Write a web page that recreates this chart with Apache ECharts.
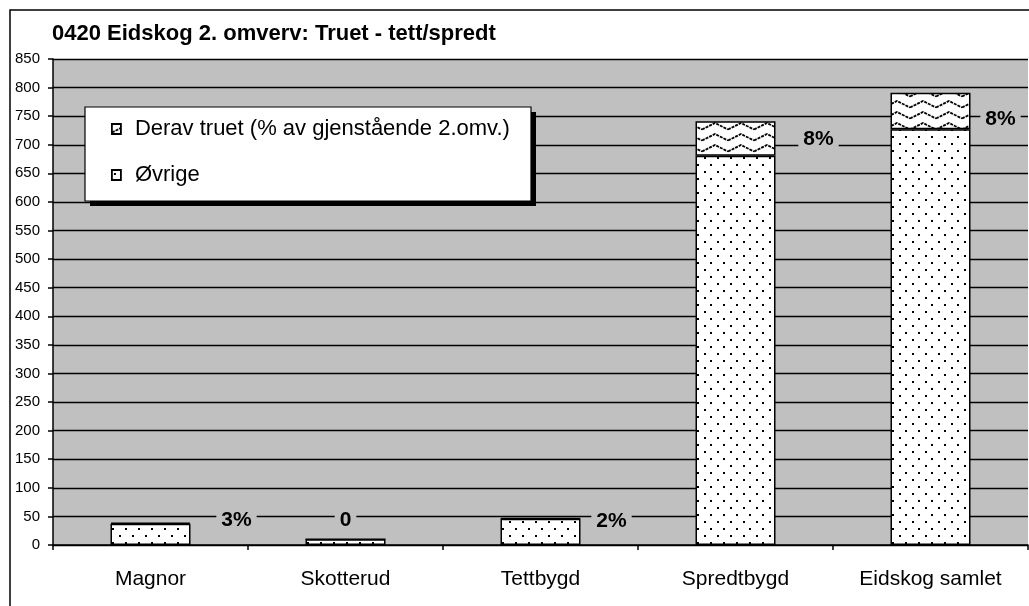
<!DOCTYPE html>
<html>
<head>
    <meta charset="UTF-8">
    <title>0420 Eidskog 2. omverv</title>
    <style>
        body,
        html {
            width: 100%;
            height: 100%;
            margin: 0;
            padding: 0;
            background: #fff;
        }
        #myChart {
            width: 1029px;
            height: 606px;
        }
    </style>
    <script src="https://cdn.jsdelivr.net/npm/echarts@6/dist/echarts.min.js"></script>
</head>
<body>
    <div id="myChart"></div>
    <script>
        // 数据
        let categories = ['Magnor', 'Skotterud', 'Tettbygd', 'Spredtbygd', 'Eidskog samlet'];
        let ovrige = [37, 10, 46, 681, 727];
        let truet = [2, 0, 1, 60, 64];
        let pctLabels = ['3%', '0', '2%', '8%', '8%'];
        let labelLevel = [43, 43, 41, 709, 744];

        // 图案：点
        function dotPattern() {
            let c = document.createElement('canvas');
            c.width = 13; c.height = 14;
            let g = c.getContext('2d');
            g.fillStyle = '#fff';
            g.fillRect(0, 0, 13, 14);
            g.fillStyle = '#000';
            g.fillRect(2, 3, 2, 2);
            g.fillRect(8, 10, 2, 2);
            return c;
        }
        // 图案：波浪
        function wavePattern() {
            let c = document.createElement('canvas');
            c.width = 26; c.height = 11;
            let g = c.getContext('2d');
            g.fillStyle = '#fff';
            g.fillRect(0, 0, 26, 11);
            g.strokeStyle = '#000';
            g.lineWidth = 1.8;
            g.setLineDash([3, 1]);
            g.beginPath();
            g.moveTo(0, 8.5);
            g.lineTo(13, 2);
            g.lineTo(26, 8.5);
            g.stroke();
            return c;
        }

        let font = '"Liberation Sans", Arial, sans-serif';
        // 标签相对柱中心的水平偏移
        let labelShift = [86, 0, 71, 83, 70];

        let myEcharts = echarts.init(document.querySelector('#myChart'));

        let option = {
            animation: false,
            backgroundColor: '#fff',
            title: {
                text: '0420 Eidskog 2. omverv: Truet - tett/spredt',
                left: 47,
                top: 18,
                textStyle: { fontFamily: font, fontSize: 22, fontWeight: 'bold', color: '#000' }
            },
            graphic: [{
                type: 'rect',
                shape: { x: 10, y: 10, width: 1040, height: 620 },
                style: { fill: 'none', stroke: '#000', lineWidth: 1.5 },
                z: 100
            }, {
                // 图例阴影
                type: 'rect',
                shape: { x: 90, y: 112, width: 446, height: 94 },
                style: { fill: '#000' },
                z: 50
            }, {
                type: 'rect',
                shape: { x: 85, y: 107, width: 446, height: 94 },
                style: { fill: '#fff', stroke: '#000', lineWidth: 1.2 },
                z: 51
            }],
            legend: {
                orient: 'vertical',
                left: 111,
                top: 118,
                z: 60,
                itemGap: 24,
                itemWidth: 9,
                itemHeight: 10,
                icon: 'rect',
                padding: 0,
                itemStyle: { borderColor: '#000', borderWidth: 1.8 },
                textStyle: { fontFamily: font, fontSize: 22, color: '#000', padding: [0, 0, 0, 9] },
                data: ['Derav truet (% av gjenstående 2.omv.)', 'Øvrige']
            },
            grid: { left: 53, top: 59, right: 1, bottom: 61, backgroundColor: '#c0c0c0', show: true, borderWidth: 0 },
            xAxis: {
                type: 'category',
                data: categories,
                axisLine: { lineStyle: { color: '#000', width: 1.5 } },
                axisTick: { show: true, length: 5, lineStyle: { color: '#000', width: 1.5 } },
                axisLabel: { fontFamily: font, fontSize: 21, color: '#000', margin: 24 }
            },
            yAxis: {
                type: 'value',
                min: 0,
                max: 850,
                interval: 50,
                axisLine: { show: true, lineStyle: { color: '#000', width: 1.5 } },
                axisTick: { show: true, length: 5, lineStyle: { color: '#000', width: 1.5 } },
                axisLabel: { fontFamily: font, fontSize: 15, color: '#000', margin: 13 },
                splitLine: { lineStyle: { color: '#000', width: 1.3 } }
            },
            series: [{
                name: 'Øvrige',
                type: 'bar',
                stack: 'total',
                barWidth: 80,
                data: ovrige,
                itemStyle: { color: { image: dotPattern(), repeat: 'repeat' }, borderColor: '#000', borderWidth: 1.5 }
            }, {
                name: 'Derav truet (% av gjenstående 2.omv.)',
                type: 'bar',
                stack: 'total',
                barWidth: 80,
                data: truet,
                itemStyle: { color: { image: wavePattern(), repeat: 'repeat' }, borderColor: '#000', borderWidth: 1.5 }
            }, {
                name: 'labels',
                type: 'scatter',
                symbolSize: 0,
                silent: true,
                z: 10,
                itemStyle: { opacity: 1 },
                data: categories.map((c, i) => ({
                    value: [c, labelLevel[i]],
                    label: { offset: [labelShift[i], 0] }
                })),
                label: {
                    show: true,
                    position: 'inside',
                    formatter: p => pctLabels[p.dataIndex],
                    fontFamily: font,
                    fontSize: 21,
                    fontWeight: 'bold',
                    color: '#000',
                    opacity: 1,
                    textBorderWidth: 0,
                    backgroundColor: '#c0c0c0',
                    padding: [1, 5]
                }
            }]
        };
        myEcharts.setOption(option, true);
    </script>
</body>
</html>
